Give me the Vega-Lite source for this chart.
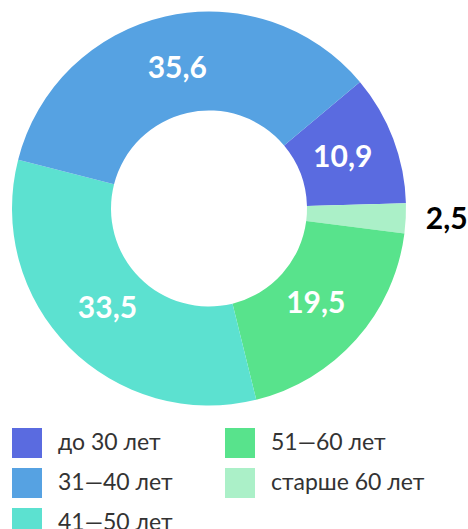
{
  "$schema": "https://vega.github.io/schema/vega-lite/v6.json",
  "width": 418,
  "height": 417,
  "autosize": "none",
  "padding": {"left": 0, "top": 0, "right": 50, "bottom": 112},
  "config": {
    "view": {"stroke": null},
    "font": "Lato",
    "locale": {"number": {"decimal": ",", "thousands": " ", "grouping": [3], "currency": ["", ""]}},
    "legend": {
      "orient": "none",
      "legendX": 12,
      "legendY": 428,
      "columns": 2,
      "padding": 0,
      "symbolType": "square",
      "symbolSize": 900,
      "symbolStrokeWidth": 0,
      "symbolOpacity": 1,
      "labelFont": "Lato",
      "labelFontSize": 23,
      "labelColor": "#333333",
      "labelOffset": 16,
      "rowPadding": 10,
      "columnPadding": 52
    }
  },
  "data": {
    "values": [
      {"group": "до 30 лет", "v": 10.9, "k": 1},
      {"group": "старше 60 лет", "v": 2.5, "k": 2},
      {"group": "51—60 лет", "v": 19.5, "k": 3},
      {"group": "41—50 лет", "v": 33.5, "k": 4},
      {"group": "31—40 лет", "v": 35.6, "k": 5}
    ]
  },
  "encoding": {
    "theta": {"field": "v", "type": "quantitative", "stack": true, "scale": {"range": [0.8727, 7.1559]}},
    "order": {"field": "k", "type": "quantitative"}
  },
  "layer": [
    {
      "mark": {"type": "arc", "outerRadius": 197, "innerRadius": 98},
      "encoding": {
        "color": {
          "field": "group",
          "type": "nominal",
          "title": null,
          "scale": {
            "domain": ["до 30 лет", "31—40 лет", "41—50 лет", "51—60 лет", "старше 60 лет"],
            "range": ["#5A6BE0", "#56A2E2", "#5CE1D0", "#58E38C", "#ABF0C8"]
          }
        }
      }
    },
    {
      "mark": {"type": "text", "radius": 143, "font": "Lato", "fontSize": 30, "fontWeight": "bold", "color": "white", "align": "center", "baseline": "middle"},
      "encoding": {
        "text": {"condition": {"test": "datum.v >= 5", "field": "v", "type": "quantitative", "format": ".1f"}, "value": ""}
      }
    },
    {
      "mark": {"type": "text", "radius": 238, "font": "Lato", "fontSize": 30, "fontWeight": "bold", "color": "black", "align": "center", "baseline": "middle"},
      "encoding": {
        "text": {"condition": {"test": "datum.v < 5", "field": "v", "type": "quantitative", "format": ".1f"}, "value": ""}
      }
    }
  ]
}
